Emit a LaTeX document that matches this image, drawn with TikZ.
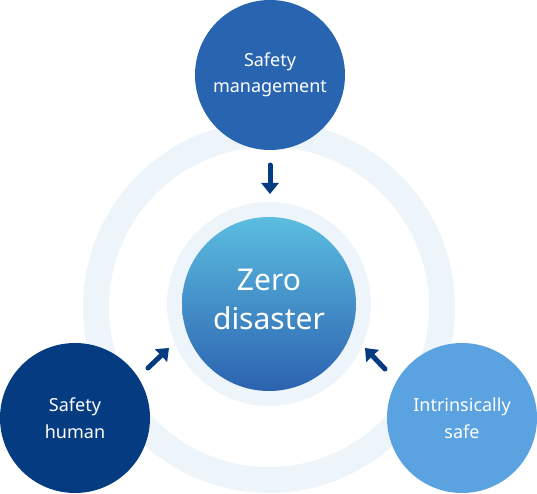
\documentclass[tikz,border=0pt]{standalone}
\usepackage{fontspec}
\setmainfont{Noto Sans}
\IfFontExistsTF{NotoSans-Medium.ttf}
  {\newfontfamily\medfont{NotoSans-Medium.ttf}}
  {\IfFontExistsTF{NotoSans-Medium.otf}
     {\newfontfamily\medfont{NotoSans-Medium.otf}}
     {\newfontfamily\medfont{Noto Sans}}}
\usetikzlibrary{arrows.meta}
\definecolor{ringcol}{HTML}{EDF4FA}
\definecolor{topcol}{HTML}{2864B0}
\definecolor{leftcol}{HTML}{053B80}
\definecolor{rightcol}{HTML}{5AA2E0}
\definecolor{gradtop}{HTML}{5BBDE0}
\definecolor{gradbot}{HTML}{2C62B0}
\definecolor{arrcol}{HTML}{053B80}
\tikzset{
  outercircle/.style={circle, minimum size=150pt, inner sep=0pt, text=white, align=center,
    font=\medfont\fontsize{18}{26.5}\selectfont},
  arr/.style={draw=arrcol, line width=5pt, line cap=round,
    -{Triangle[width=17pt,length=11pt]}},
}
\begin{document}
\begin{tikzpicture}[x=1pt,y=-1pt]
\useasboundingbox (0,0) rectangle (537,494);
% large ring
\draw[ringcol, line width=26pt] (269,307) circle (173pt);
% center light disk and gradient circle
\node[circle, fill=ringcol, minimum size=204pt, inner sep=0pt] (halo) at (269,304) {};
\node[circle, top color=gradtop, bottom color=gradbot, minimum size=174pt, inner sep=0pt] (center) at (269,304) {};
\node[text=white, align=center, font=\medfont\fontsize{30}{39}\selectfont, inner sep=0pt] (centertext) at (269,299) {Zero\\disaster};
% outer circles
\node[outercircle, fill=topcol] (top) at (270,75) {Safety\\management};
\node[outercircle, fill=leftcol] (left) at (75,418) {Safety\\human};
\node[outercircle, fill=rightcol] (right) at (462,418) {Intrinsically\\safe};
% arrow coordinates
\coordinate (a1s) at (270,165);
\coordinate (a1e) at (270,194);
\coordinate (a2s) at (148,368);
\coordinate (a2e) at (169,348);
\coordinate (a3s) at (385,369);
\coordinate (a3e) at (365,348);
\draw[arr] (a1s) -- (a1e);
\draw[arr] (a2s) -- (a2e);
\draw[arr] (a3s) -- (a3e);
\end{tikzpicture}
\end{document}
